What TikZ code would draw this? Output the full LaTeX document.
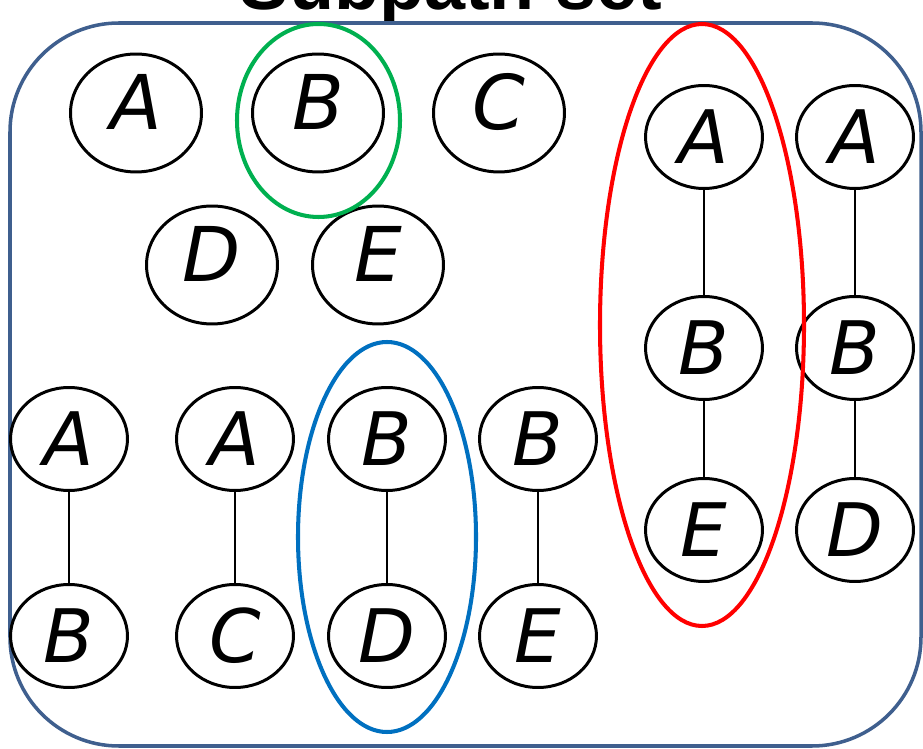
\documentclass[tikz,border=0pt]{standalone}
\usepackage{fontspec}
\setmainfont{DejaVu Sans}
\newfontfamily\titlefont{Liberation Sans}
\usepackage{xcolor}
\definecolor{framecolor}{HTML}{3F5F8E}
\definecolor{greenring}{HTML}{00B050}
\definecolor{bluering}{HTML}{0070C0}
\definecolor{redring}{HTML}{FF0000}
\usepackage{tikz}
\usetikzlibrary{shapes.geometric}

\begin{document}
\begin{tikzpicture}[x=0.02cm, y=-0.02cm,
  vertex/.style={draw, ellipse, line width=1.7pt, inner sep=0pt,
    minimum width=2.34cm, minimum height=2.06cm,
    font=\fontsize{42}{44}\selectfont\itshape},
  bigvertex/.style={vertex, minimum width=2.62cm, minimum height=2.36cm,
    text depth=0.45cm, font=\fontsize{43}{45}\selectfont\itshape},
  link/.style={line width=0.85pt},
  ring/.style={line width=2.3pt}]
  \useasboundingbox (0,0) rectangle (923,749);
  \begin{scope}
  \clip (0,0) rectangle (923,749);
  % title
  \node[font=\titlefont\bfseries\fontsize{42}{44}\selectfont, anchor=base] (title) at (451,10) {Subpath set};
  % frame
  \draw[framecolor, line width=2pt, rounded corners=62pt] (10,23) rectangle (921,746);
  % single vertices
  \node[bigvertex] (tA) at (136,113) {A};
  \node[bigvertex] (tB) at (318,113) {B};
  \node[bigvertex] (tC) at (499,113) {C};
  \node[bigvertex] (tD) at (212,265) {D};
  \node[bigvertex] (tE) at (378,265) {E};
  % pairs
  \node[vertex] (pA1) at (69,439) {A};
  \node[vertex] (pB1) at (69,636) {B};
  \node[vertex] (pA2) at (235,439) {A};
  \node[vertex] (pC2) at (235,636) {C};
  \node[vertex] (pB3) at (387,439) {B};
  \node[vertex] (pD3) at (387,636) {D};
  \node[vertex] (pB4) at (538,439) {B};
  \node[vertex] (pE4) at (538,636) {E};
  \draw[link] (pA1) -- (pB1);
  \draw[link] (pA2) -- (pC2);
  \draw[link] (pB3) -- (pD3);
  \draw[link] (pB4) -- (pE4);
  % triples
  \node[vertex] (qA1) at (704,137) {A};
  \node[vertex] (qB1) at (704,348) {B};
  \node[vertex] (qE1) at (704,530) {E};
  \node[vertex] (qA2) at (855,137) {A};
  \node[vertex] (qB2) at (855,348) {B};
  \node[vertex] (qD2) at (855,530) {D};
  \draw[link] (qA1) -- (qB1) -- (qE1);
  \draw[link] (qA2) -- (qB2) -- (qD2);
  % rings
  \draw[ring, greenring] (318.5,120.5) ellipse [x radius=81.5, y radius=96.5];
  \draw[ring, bluering] (387,537) ellipse [x radius=89, y radius=195];
  \draw[ring, redring] (702,325) ellipse [x radius=102, y radius=301];
  \end{scope}
\end{tikzpicture}
\end{document}
